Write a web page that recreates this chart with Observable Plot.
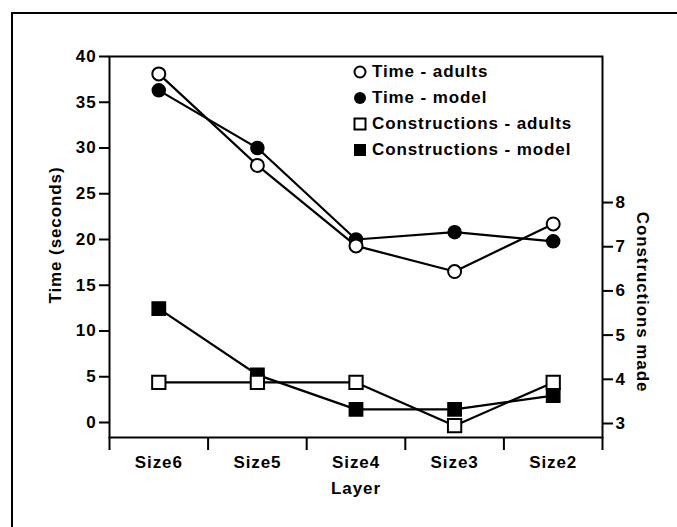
<!DOCTYPE html>
<html>
<head>
<meta charset="utf-8">
<script src="https://cdn.jsdelivr.net/npm/d3@7"></script>
<script src="https://cdn.jsdelivr.net/npm/@observablehq/plot@0.6"></script>
<style>
  html, body { margin: 0; padding: 0; background: white; }
  #wrap { position: relative; width: 677px; height: 527px; overflow: hidden;
          font-family: "Liberation Sans", Arial, sans-serif; font-size: 17px; font-weight: bold;
          letter-spacing: 0.9px; color: black; }
  #outer { position: absolute; left: 11px; top: 12px; width: 700px; height: 600px;
           border-left: 2px solid black; border-top: 2px solid black; }
  #legend { position: absolute; left: 352px; top: 59px; }
  #legend .row { height: 26px; display: flex; align-items: center; white-space: nowrap; }
  #legend svg { width: 16px; height: 16px; margin-right: 4px; }
  .title { position: absolute; white-space: nowrap; transform-origin: 0 0; }
</style>
</head>
<body>
<div id="wrap">
  <div id="chart"></div>
  <div id="outer"></div>
  <div id="legend"></div>
  <div class="title" id="ytitle" style="left:56px; top:235px; transform: rotate(-90deg) translate(-50%, -50%);">Time (seconds)</div>
  <div class="title" id="rtitle" style="left:642px; top:302px; transform: rotate(90deg) translate(-50%, -50%);">Constructions made</div>
</div>
<script>
const layers = ["Size6", "Size5", "Size4", "Size3", "Size2"];
const timeAdults = [38.1, 28.1, 19.3, 16.5, 21.7];
const timeModel = [36.3, 30.0, 20.0, 20.8, 19.8];
const consAdults = [3.93, 3.93, 3.93, 2.95, 3.93];
const consModel = [5.6, 4.1, 3.32, 3.32, 3.63];
const timeTicks = [0, 5, 10, 15, 20, 25, 30, 35, 40];
const consTicks = [3, 4, 5, 6, 7, 8];
const legendLabels = ["Time - adults", "Time - model", "Constructions - adults", "Constructions - model"];

// right axis (constructions) mapped onto left axis (seconds) units
const toTime = d3.scaleLinear().domain([3, 8]).range([-0.11, 24.04]);

const rows = (vals, conv) => layers.map((l, i) => ({i: i + 0.5, v: conv ? toTime(vals[i]) : vals[i]}));
const tA = rows(timeAdults), tM = rows(timeModel), cA = rows(consAdults, true), cM = rows(consModel, true);

const font = "'Liberation Sans', Arial, sans-serif";
const chart = Plot.plot({
  width: 677, height: 527,
  marginLeft: 109, marginRight: 75, marginTop: 56, marginBottom: 90,
  x: {domain: [0, 5], axis: null},
  y: {domain: [-1.64, 40], axis: null},
  style: {fontFamily: font, fontSize: "17px", fontWeight: "bold", color: "black", background: "transparent", letterSpacing: "0.9px"},
  marks: [
    Plot.frame({stroke: "black", strokeWidth: 2}),
    Plot.axisY({ticks: timeTicks, tickSize: 10, tickPadding: 3, strokeWidth: 2, label: null, fontSize: 17}),
    Plot.axisY({anchor: "right", ticks: consTicks.map(d => toTime(d)), tickFormat: d => Math.round(toTime.invert(d)),
                tickSize: 10, tickPadding: 3, strokeWidth: 2, label: null, fontSize: 17}),
    Plot.axisX({ticks: d3.range(6), tickSize: 13, strokeWidth: 2, tickFormat: () => "", label: null}),
    Plot.axisX({ticks: layers.map((d, i) => i + 0.5), tickSize: 0, tickPadding: 18,
                tickFormat: d => layers[Math.floor(d)], label: null, fontSize: 17}),
    Plot.text(["Layer"], {frameAnchor: "bottom", dy: 56, text: d => d, fontSize: 17}),
    Plot.line(tA, {x: "i", y: "v", stroke: "black", strokeWidth: 2.2}),
    Plot.line(tM, {x: "i", y: "v", stroke: "black", strokeWidth: 2.2}),
    Plot.line(cA, {x: "i", y: "v", stroke: "black", strokeWidth: 2.2}),
    Plot.line(cM, {x: "i", y: "v", stroke: "black", strokeWidth: 2.2}),
    Plot.dot(tM, {x: "i", y: "v", r: 6.5, fill: "black", stroke: "black", strokeWidth: 1.5}),
    Plot.dot(tA, {x: "i", y: "v", r: 6.5, fill: "white", stroke: "black", strokeWidth: 2}),
    Plot.dot(cM, {x: "i", y: "v", r: 7.5, symbol: "square", fill: "black", stroke: "black", strokeWidth: 1.5}),
    Plot.dot(cA, {x: "i", y: "v", r: 7.5, symbol: "square", fill: "white", stroke: "black", strokeWidth: 2})
  ]
});
document.getElementById("chart").appendChild(chart);

const markers = [
  '<circle cx="8" cy="8" r="5.5" fill="white" stroke="black" stroke-width="2"/>',
  '<circle cx="8" cy="8" r="6" fill="black"/>',
  '<rect x="2.5" y="2.5" width="11" height="11" fill="white" stroke="black" stroke-width="2"/>',
  '<rect x="2" y="2" width="12" height="12" fill="black"/>'
];
const leg = document.getElementById("legend");
legendLabels.forEach((lab, k) => {
  const row = document.createElement("div");
  row.className = "row";
  row.innerHTML = `<svg viewBox="0 0 16 16">${markers[k]}</svg><span>${lab}</span>`;
  leg.appendChild(row);
});
</script>
</body>
</html>
